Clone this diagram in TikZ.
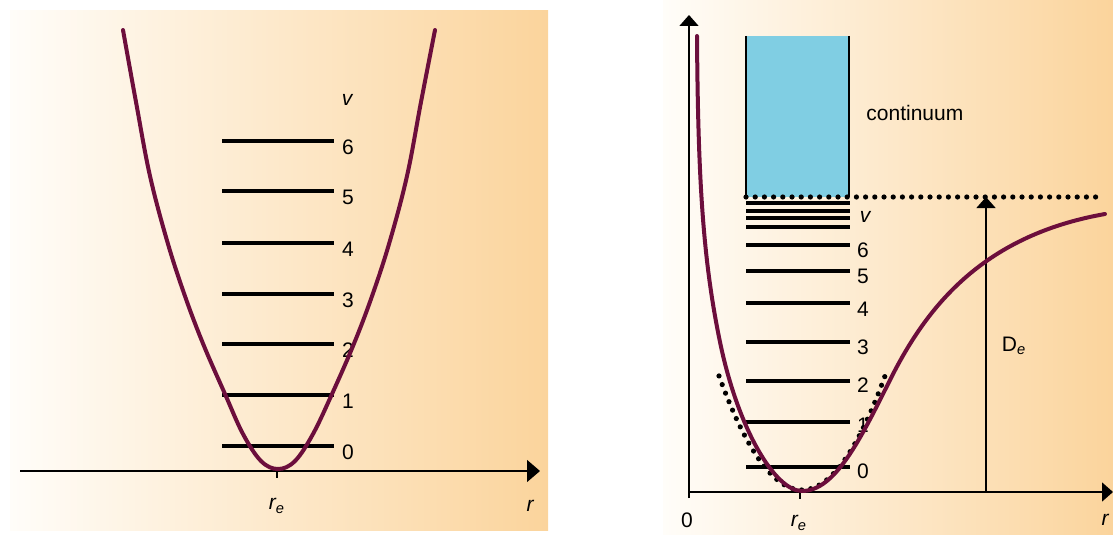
\documentclass[tikz,border=0pt]{standalone}
\usepackage{fontspec}
\setmainfont{Liberation Sans}
\usetikzlibrary{arrows.meta}
\definecolor{bgL}{RGB}{255,253,249}
\definecolor{bgR}{RGB}{251,212,156}
\definecolor{curve}{RGB}{108,14,60}
\definecolor{cont}{RGB}{128,206,227}
\tikzset{
  axis/.style={line width=0.75pt, black},
  bigtip/.style={-{Triangle[length=6.5pt,width=11pt]}},
  smalltip/.style={-{Triangle[length=5.5pt,width=9.5pt]}},
  level/.style={line width=2.2pt, black},
  pot/.style={line width=2pt, curve, line cap=round},
  dots/.style={line width=2.6pt, dash pattern=on 0pt off 4.6pt, line cap=round},
  lab/.style={font=\fontsize{10.5}{12}\selectfont, inner sep=0pt},
}
\begin{document}
\begin{tikzpicture}[x=0.5pt,y=-0.5pt]
\useasboundingbox (0,0) rectangle (1113,535);
% backgrounds
\shade[left color=bgL, right color=bgR] (10,11) rectangle (548,530);
\shade[left color=bgL, right color=bgR] (663,0) rectangle (1113,535);

%%%%% LEFT PANEL
\coordinate (LA0) at (20,471);
\coordinate (LA1) at (540,471);
\draw[axis, bigtip] (LA0) -- (LA1);
\coordinate (LT0) at (277,471);
\coordinate (LT1) at (277,478);
\draw[axis] (LT0) -- (LT1);
\node[lab] (Lre) at (277,506) {\itshape r\textsubscript{e}};
\node[lab] (Lr) at (530,506) {\itshape r};
\node[lab] (Lv) at (347,100) {\itshape v};
\foreach \n/\y in {0/446,1/395,2/344,3/294,4/243,5/191,6/141}{
  \coordinate (La\n) at (222,\y);
  \coordinate (Lb\n) at (334,\y);
  \draw[level] (La\n) -- (Lb\n);
  \node[lab] (Ll\n) at (348,\y+6) {\n};
}
\draw[pot] plot[smooth, tension=0.6] coordinates {
 (123,30) (136,102) (150,176) (168,244) (186,299) (204,346) (225,394)
 (243,434) (261,461) (278,469) (295,461) (313,434) (332,394) (353,346)
 (371,299) (389,244) (407,176) (421,102) (435,30)};

%%%%% RIGHT PANEL
% continuum
\fill[cont] (746,36) rectangle (849,197);
\coordinate (C0) at (746,36);
\coordinate (C1) at (746,197);
\coordinate (C2) at (849,36);
\coordinate (C3) at (849,197);
\draw[line width=0.6pt] (C0) -- (C1);
\draw[line width=0.6pt] (C2) -- (C3);
\node[lab, anchor=west] (cont) at (866,113) {continuum};
% levels
\foreach \y in {203,211,218,227}{
  \draw[level] (746,\y) -- (850,\y);
}
\foreach \n/\y/\ly in {0/467/471,1/422/425,2/381/385,3/342/347,4/303/309,5/271/276,6/245/250}{
  \coordinate (Ra\n) at (746,\y);
  \coordinate (Rb\n) at (850,\y);
  \draw[level] (Ra\n) -- (Rb\n);
  \node[lab] (Rl\n) at (863,\ly) {\n};
}
\node[lab] (Rv) at (865,217) {\itshape v};
% dissociation line
\coordinate (D0) at (746,197);
\coordinate (D1) at (1097,197);
\draw[dots] (D0) -- (D1);
% axes
\coordinate (RY0) at (689,498);
\coordinate (RY1) at (689,15);
\draw[axis, smalltip] (RY0) -- (RY1);
\coordinate (RX0) at (689,492);
\coordinate (RX1) at (1113,492);
\draw[axis, smalltip] (RX0) -- (RX1);
\coordinate (RT0) at (800,492);
\coordinate (RT1) at (800,499);
\draw[axis] (RT0) -- (RT1);
\node[lab] (R0) at (687,520) {0};
\node[lab] (Rre) at (799,523) {\itshape r\textsubscript{e}};
\node[lab] (Rr) at (1105,520) {\itshape r};
% De arrow
\coordinate (E0) at (986,492);
\coordinate (E1) at (986,197);
\draw[axis, smalltip] (E0) -- (E1);
\node[lab] (De) at (1014,346) {D\textsubscript{\itshape e}};
% harmonic approx
\draw[dots] plot[domain=719:885, samples=60] (\x,{490-0.01655*(\x-802)^2});
% Morse curve
\draw[pot] (697,36) .. controls (698,180) and (703,260) .. (720,342)
  .. controls (738,429) and (775,491) .. (802,491)
  .. controls (835,491) and (860,440) .. (890,380)
  .. controls (925,310) and (980,236) .. (1105,214);
\end{tikzpicture}
\end{document}
